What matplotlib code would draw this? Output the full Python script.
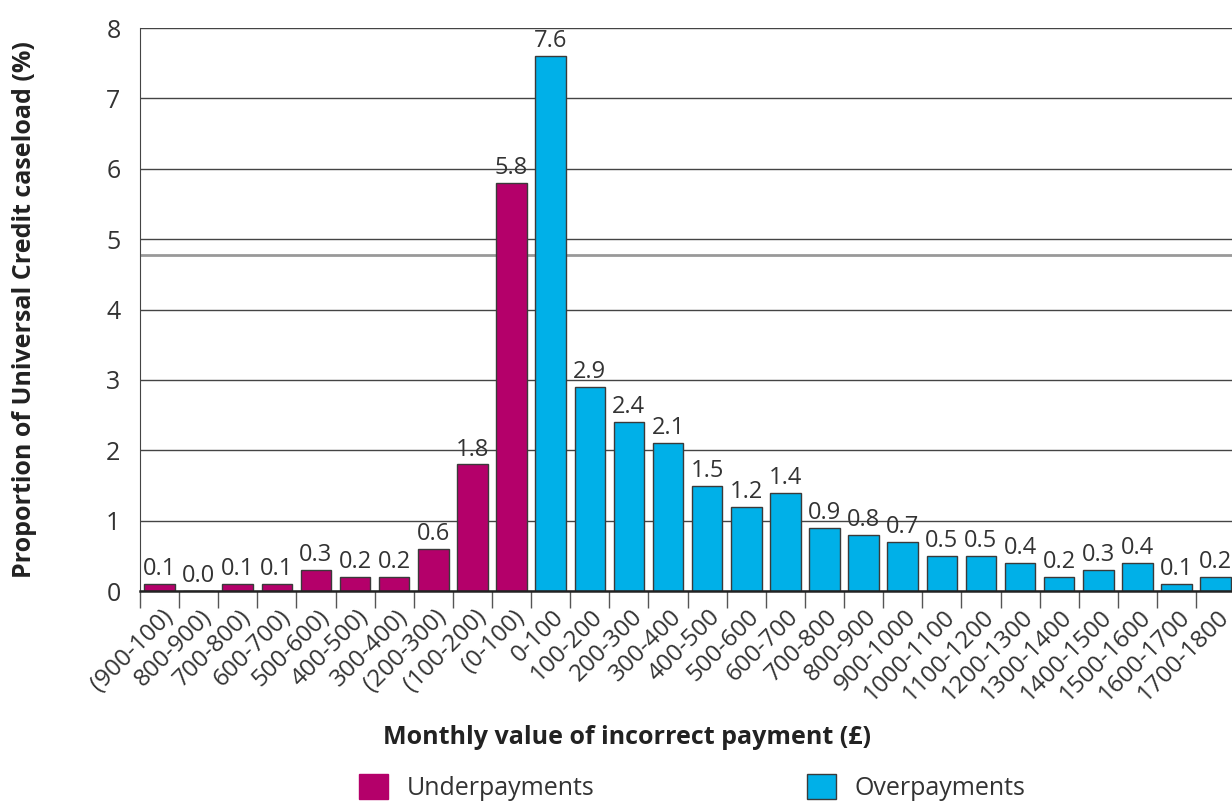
import matplotlib
matplotlib.use('Agg')
import matplotlib.pyplot as plt
from matplotlib.patches import Patch

plt.rcParams['font.family'] = ['Open Sans', 'DejaVu Sans']

under_labels = ['(900-100)', '800-900)', '700-800)', '600-700)', '500-600)',
                '400-500)', '300-400)', '(200-300)', '(100-200)', '(0-100)']
under_values = [0.1, 0.0, 0.1, 0.1, 0.3, 0.2, 0.2, 0.6, 1.8, 5.8]

over_labels = ['0-100', '100-200', '200-300', '300-400', '400-500', '500-600',
               '600-700', '700-800', '800-900', '900-1000', '1000-1100',
               '1100-1200', '1200-1300', '1300-1400', '1400-1500', '1500-1600',
               '1600-1700', '1700-1800']
over_values = [7.6, 2.9, 2.4, 2.1, 1.5, 1.2, 1.4, 0.9, 0.8, 0.7, 0.5, 0.5,
               0.4, 0.2, 0.3, 0.4, 0.1, 0.2]

under_col = '#B4006A'
over_col = '#00B0E8'
txt = '#333333'

fig = plt.figure(figsize=(12.32, 8.02), dpi=100)
ax = fig.add_axes([0.1136, 0.263, 0.889, 0.702])

labels = under_labels + over_labels
n_under = len(under_labels)
xu = list(range(n_under))
xo = [n_under + i for i in range(len(over_labels))]

ax.bar(xu, under_values, width=0.78, color=under_col, edgecolor='#3a3a3a',
       linewidth=1.0, zorder=3)
ax.bar(xo, over_values, width=0.78, color=over_col, edgecolor='#3a3a3a',
       linewidth=1.0, zorder=3)

for x, v in zip(xu + xo, under_values + over_values):
    ax.text(x, v + 0.04, f'{v:.1f}', ha='center', va='bottom',
            fontsize=17, color=txt, zorder=4)

ax.set_xlim(-0.5, len(labels) - 0.5)
ax.set_ylim(0, 8)
ax.set_yticks(range(9))
ax.tick_params(axis='y', length=0, labelsize=18, labelcolor=txt, pad=14)
ax.grid(axis='y', color='#444444', linewidth=1.0, zorder=0)
ax.axhline(4.78, color='#999999', linewidth=2.0, zorder=1)

# ticks sit on category boundaries, labels under the bars
ax.set_xticks([i - 0.5 for i in range(len(labels) + 1)])
ax.set_xticklabels([])
ax.tick_params(axis='x', length=12, color='#555555', width=1.0)
for i, lab in enumerate(labels):
    ax.text(i + 0.25, -0.32, lab, rotation=45, rotation_mode='anchor',
            ha='right', va='center', fontsize=17.5, color=txt)

for s in ['top', 'right']:
    ax.spines[s].set_visible(False)
ax.spines['left'].set_color('#444444')
ax.spines['bottom'].set_color('#222222')
ax.spines['bottom'].set_linewidth(1.8)
ax.spines['bottom'].set_zorder(5)

ax.set_ylabel('Proportion of Universal Credit caseload (%)', fontsize=18,
              fontweight='bold', color='#222222')
ax.yaxis.set_label_coords(-0.094, 0.5)
fig.text(0.509, 0.081, 'Monthly value of incorrect payment (£)', ha='center',
         va='center', fontsize=18, fontweight='bold', color='#222222')

handles = [Patch(facecolor=under_col, edgecolor=under_col, label='Underpayments'),
           Patch(facecolor=over_col, edgecolor='#3a3a3a', label='Overpayments')]
fig.legend(handles=handles, loc='center', bbox_to_anchor=(0.562, 0.018), ncol=2,
           frameon=False, fontsize=18, handlelength=1.15, handleheight=1.15,
           columnspacing=8.5, handletextpad=0.75, labelcolor=txt)

fig.savefig('out.png', dpi=100)
plt.close()
